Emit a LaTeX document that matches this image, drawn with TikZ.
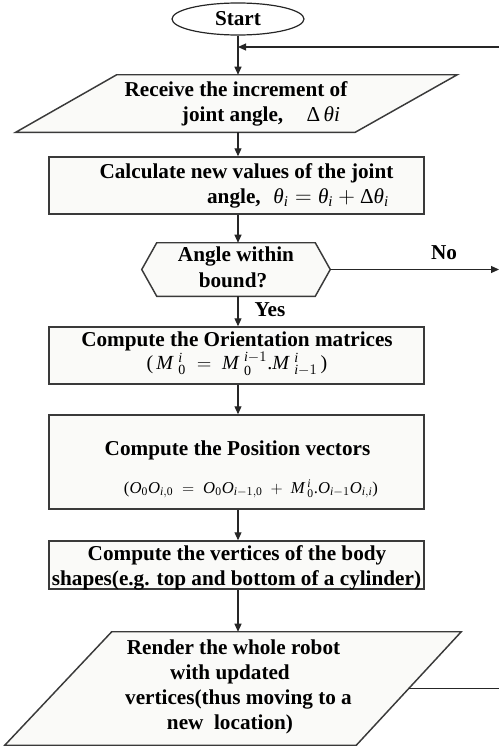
\documentclass[tikz,border=0pt]{standalone}
\usepackage{amsmath}
\usepackage{fontspec}
\setmainfont{Liberation Serif}
\usetikzlibrary{shapes.geometric,arrows.meta,calc}
\newlength\px \setlength\px{0.75pt}
\newcommand\mainsz{\fontsize{15.9pt}{18.75pt}\selectfont\bfseries}
\newcommand\fit[1]{\text{\normalfont\itshape #1}}
\newcommand\fup[1]{\text{\normalfont #1}}
\definecolor{edgec}{HTML}{3A3A3A}
\definecolor{boxfill}{HTML}{FAFAF8}
\begin{document}
\begin{tikzpicture}[x=0.75pt,y=-0.75pt,
  shapeline/.style={draw=edgec, line width=1.1pt, fill=boxfill},
  rbox/.style={shapeline, rectangle, minimum width=375\px, inner sep=0pt},
  ghost/.style={rectangle, inner sep=0pt},
  txt/.style={font=\mainsz, inner sep=0pt, text height=0.7em, text depth=0.2em},
  arr/.style={draw=black!85, line width=0.8pt, -{Triangle[length=6pt,width=5.25pt]}},
  conn/.style={draw=black!85, line width=0.8pt},
]
\useasboundingbox (0,0) rectangle (499,746);

% Start
\node[ellipse, draw=black!85, line width=0.9pt, fill=white, minimum width=132\px, minimum height=32\px, inner sep=0pt, font=\mainsz] (start) at (238,19) {Start};

% parallelogram 1
\node[ghost, minimum width=441\px, minimum height=57\px] (p1) at (236.5,103.5) {};
\draw[shapeline] ([xshift=101\px]p1.north west) -- (p1.north east) -- ([xshift=-102\px]p1.south east) -- (p1.south west) -- cycle;
\node[txt] (p1a) at (236,93) {Receive the increment of};
\node[txt] (p1b) at (261,118) {joint angle,\hspace{1.1em}{\mdseries Δ\,\itshape θi}};

% box 2
\node[rbox, minimum height=57\px] (b2) at (236.5,185.5) {};
\node[txt] (b2a) at (246.5,175) {Calculate new values of the joint};
\node[txt] (b2b) at (298,200) {angle,\hspace{0.6em}$\fit{θ}_{\fit{i}} = \fit{θ}_{\fit{i}} + \fup{Δ}\fit{θ}_{\fit{i}}$};

% hexagon
\node[ghost, minimum width=188\px, minimum height=53\px] (hex) at (236,269.5) {};
\draw[shapeline] (hex.west) -- ([xshift=15\px]hex.north west) -- ([xshift=-15\px]hex.north east) -- (hex.east) -- ([xshift=-15\px]hex.south east) -- ([xshift=15\px]hex.south west) -- cycle;
\node[txt] (hexa) at (236,258) {Angle within};
\node[txt] (hexb) at (233,284) {bound?};

% box 3
\node[rbox, minimum height=57\px] (b3) at (236.5,355.5) {};
\node[txt] (b3a) at (237,343) {Compute the Orientation matrices};
\node[txt, font=\fontsize{15pt}{17pt}\selectfont] (b3b) at (237,366) {$\fup{(}\,\fit{M}\;{}^{\fit{i}}_{\fup{0}} \;=\; \fit{M}\;{}^{\fit{i}-1}_{\fup{0}}\fup{.}\fit{M}\;{}^{\fit{i}}_{\fit{i}-1}\,\fup{)}$};

% box 4
\node[rbox, minimum height=94\px] (b4) at (236.5,462) {};
\node[txt] (b4a) at (237.5,452) {Compute the Position vectors};
\node[txt, font=\fontsize{12.5pt}{14pt}\selectfont] (b4b) at (251,490) {$\fup{(}\fit{O}_{\fup{0}}\fit{O}_{\fit{i},\fup{0}} \;=\; \fit{O}_{\fup{0}}\fit{O}_{\fit{i}-1,\fup{0}} \;+\; \fit{M}\,{}^{\fit{i}}_{\fup{0}}\fup{.}\fit{O}_{\fit{i}-1}\fit{O}_{\fit{i},\fit{i}}\fup{)}$};

% box 5
\node[rbox, minimum height=48\px] (b5) at (236.5,565) {};
\node[txt] (b5a) at (237,557) {Compute the vertices of the body};
\node[txt] (b5b) at (236.5,582) {shapes(e.g. top and bottom of a cylinder)};

% parallelogram 2
\node[ghost, minimum width=456\px, minimum height=113\px] (p2) at (233,688.5) {};
\draw[shapeline] ([xshift=107\px]p2.north west) -- (p2.north east) -- ([xshift=-105\px]p2.south east) -- (p2.south west) -- cycle;
\coordinate (p2r) at ($(p2.north east)!0.5!([xshift=-105\px]p2.south east)$);
\node[txt] (p2a) at (233.5,651) {Render the whole robot};
\node[txt] (p2b) at (230,676) {with updated};
\node[txt] (p2c) at (238.5,701) {vertices(thus moving to a};
\node[txt] (p2d) at (230,726) {new\ \ location)};

% labels
\node[txt] (no) at (444,256) {No};
\node[txt] (yes) at (270,313) {Yes};

% connectors
\coordinate (rim) at (499,47);
\draw[arr] (start.south) -- (start.south |- p1.north);
\draw[arr] (p1.south -| start) -- (b2.north -| start);
\draw[arr] (b2.south -| start) -- (hex.north -| start);
\draw[arr] (hex.south -| start) -- (b3.north -| start);
\draw[arr] (b3.south -| start) -- (b4.north -| start);
\draw[arr] (b4.south -| start) -- (b5.north -| start);
\draw[arr] (b5.south -| start) -- (p2.north -| start);
\draw[arr] (hex.east) -- (hex.east -| rim);
\draw[conn] (p2r) -- (p2r -| rim);
\draw[arr] (rim) -- (rim -| start);
\end{tikzpicture}
\end{document}
